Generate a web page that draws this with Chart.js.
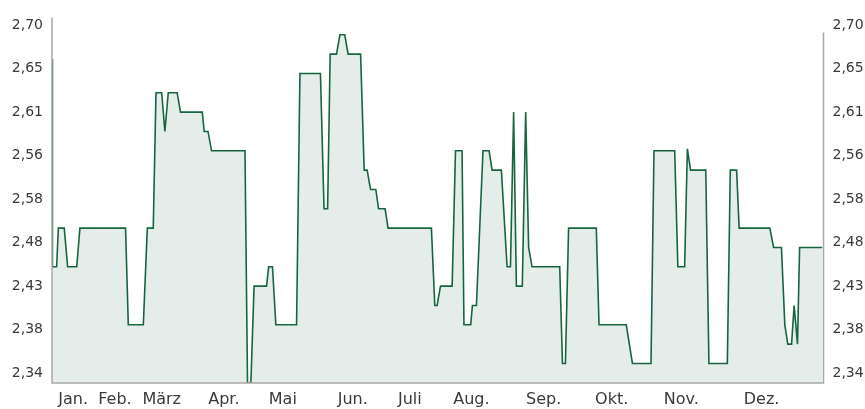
<!DOCTYPE html>
<html>
<head>
<meta charset="utf-8">
<script src="https://cdn.jsdelivr.net/npm/chart.js@4/dist/chart.umd.min.js"></script>
<style>
  html, body { margin: 0; padding: 0; background: #fff; }
  #wrap { width: 865px; height: 409px; }
</style>
</head>
<body>
<div id="wrap"><canvas id="c" width="865" height="409"></canvas></div>
<script>
// Position along the year (days) and price of each point
const dayPos = [0, 0.2, 2.2, 3.0, 5.8, 7.4, 11.7, 13.2, 34.8, 36.1, 43.2, 45.1, 47.9, 49.2, 51.9, 53.4, 55.0, 59.2, 60.8, 71.1,
  72.0, 73.8, 75.5, 91.3, 92.5, 94.1, 95.6, 101.5, 102.5, 104.3, 105.9, 115.7, 117.3, 127.0, 128.7, 130.4, 131.6, 134.6, 136.2, 138.5,
  140.1, 146.0, 147.7, 149.1, 150.7, 153.2, 154.5, 157.6, 159.0, 179.5, 181.1, 182.2, 183.8, 189.3, 190.9, 194.0, 194.9, 198.1, 198.9, 200.8,
  203.9, 206.8, 208.2, 212.6, 215.3, 216.9, 218.4, 219.7, 222.5, 224.1, 225.5, 227.1, 240.2, 241.5, 242.9, 244.4, 257.5, 258.8, 271.7, 274.6,
  283.4, 284.8, 294.6, 296.1, 299.3, 300.6, 302.1, 309.3, 310.8, 319.5, 320.9, 323.9, 325.1, 339.6, 341.4, 345.1, 346.7, 348.1, 349.9, 351.1,
  352.7, 353.7, 364.4];
const prices = [2.665, 2.45, 2.45, 2.49, 2.49, 2.45, 2.45, 2.49, 2.49, 2.39, 2.39, 2.49, 2.49, 2.63, 2.63, 2.59, 2.63, 2.63, 2.61, 2.61,
  2.59, 2.59, 2.57, 2.57, 2.33, 2.33, 2.43, 2.43, 2.45, 2.45, 2.39, 2.39, 2.65, 2.65, 2.51, 2.51, 2.67, 2.67, 2.69, 2.69,
  2.67, 2.67, 2.55, 2.55, 2.53, 2.53, 2.51, 2.51, 2.49, 2.49, 2.41, 2.41, 2.43, 2.43, 2.57, 2.57, 2.39, 2.39, 2.41, 2.41,
  2.57, 2.57, 2.55, 2.55, 2.45, 2.45, 2.61, 2.43, 2.43, 2.61, 2.47, 2.45, 2.45, 2.35, 2.35, 2.49, 2.49, 2.39, 2.39, 2.35,
  2.35, 2.57, 2.57, 2.45, 2.45, 2.572, 2.55, 2.55, 2.35, 2.35, 2.55, 2.55, 2.49, 2.49, 2.47, 2.47, 2.39, 2.37, 2.37, 2.41,
  2.37, 2.47, 2.47];

// Month labels and their positions (days)
const monthLabels = ['Jan.', 'Feb.', 'März', 'Apr.', 'Mai', 'Jun.', 'Juli', 'Aug.', 'Sep.', 'Okt.', 'Nov.', 'Dez.'];
const monthPos = [10.0, 29.8, 51.9, 81.3, 109.2, 142.3, 169.3, 198.4, 232.6, 264.8, 297.7, 335.7];

// Y tick positions and labels (as printed in the reference)
const yTickValues = [2.34, 2.385, 2.43, 2.475, 2.52, 2.565, 2.61, 2.655, 2.70];
const yTickLabels = ['2,34', '2,38', '2,43', '2,48', '2,58', '2,56', '2,61', '2,65', '2,70'];

const Y_MIN = 2.3298, Y_MAX = 2.708;
const FONT = 'DejaVu Sans';
const TEXT = '#3a3a3a';
const AXIS = '#a8a8a8';

const points = dayPos.map((d, i) => ({ x: d, y: prices[i] }));

const axisLines = {
  id: 'axisLines',
  afterDatasetsDraw(chart) {
    const { ctx, chartArea: a } = chart;
    ctx.save();
    ctx.strokeStyle = AXIS;
    ctx.lineWidth = 1.5;
    ctx.beginPath();
    ctx.moveTo(a.left, a.top);
    ctx.lineTo(a.left, a.bottom);
    ctx.lineTo(a.right, a.bottom);
    ctx.lineTo(a.right, a.top + 15);
    ctx.stroke();
    ctx.restore();
  }
};

const yTickCfg = {
  color: TEXT,
  font: { family: FONT, size: 14 },
  padding: 9,
  callback: (v, i) => yTickLabels[i]
};
const noGrid = { display: false, drawTicks: false };

new Chart(document.getElementById('c'), {
  type: 'line',
  data: {
    datasets: [{
      data: points,
      borderColor: '#17653f',
      borderWidth: 1.6,
      backgroundColor: 'rgb(228,237,233)',
      fill: 'start',
      tension: 0,
      pointRadius: 0,
      yAxisID: 'y'
    }]
  },
  options: {
    responsive: false,
    animation: false,
    events: [],
    layout: { padding: { top: 11, left: 0, right: 0, bottom: 0 } },
    plugins: { legend: { display: false }, tooltip: { enabled: false } },
    scales: {
      x: {
        type: 'linear',
        min: 0, max: 365,
        grid: noGrid,
        border: { display: false },
        afterBuildTicks: s => { s.ticks = monthPos.map(v => ({ value: v })); },
        afterFit: s => { s.height = 26; },
        ticks: {
          autoSkip: false, maxRotation: 0, minRotation: 0,
          color: TEXT,
          font: { family: FONT, size: 16 },
          padding: 7,
          callback: (v, i) => monthLabels[i]
        }
      },
      y: {
        type: 'linear',
        position: 'left',
        min: Y_MIN, max: Y_MAX,
        grid: noGrid,
        border: { display: false },
        afterBuildTicks: s => { s.ticks = yTickValues.map(v => ({ value: v })); },
        afterFit: s => { s.width = 52; },
        ticks: yTickCfg
      },
      y2: {
        type: 'linear',
        position: 'right',
        min: Y_MIN, max: Y_MAX,
        grid: noGrid,
        border: { display: false },
        afterBuildTicks: s => { s.ticks = yTickValues.map(v => ({ value: v })); },
        afterFit: s => { s.width = 41.5; },
        ticks: yTickCfg
      }
    }
  },
  plugins: [axisLines]
});
</script>
</body>
</html>
